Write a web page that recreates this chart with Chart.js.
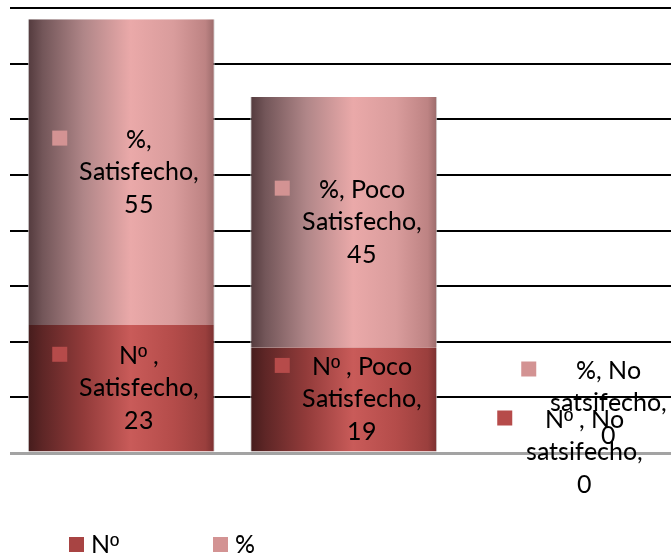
<!DOCTYPE html>
<html>
<head>
<meta charset="utf-8">
<script src="https://cdn.jsdelivr.net/npm/chart.js@4.4.1/dist/chart.umd.min.js"></script>
<style>
  /* Label face: Lato, with the ordinal sign taken from a face that underlines it */
  @font-face { font-family: 'LabelFace'; src: local('Lato Regular'), local('Lato-Regular'), local('Lato'); }
  @font-face { font-family: 'LabelFace'; src: local('Liberation Sans'), local('LiberationSans'); unicode-range: U+00BA; }
  html, body { margin: 0; padding: 0; background: #fff; overflow: hidden; width: 671px; height: 558px; }
  canvas { display: block; }
</style>
</head>
<body>
<canvas id="chart" width="680" height="558"></canvas>
<script>
// Categories and series
const categories = ['Satisfecho', 'Poco Satisfecho', 'No satsifecho'];
const seriesNames = ['Nº ', '%'];
const countValues = [23, 19, 0];
const percentValues = [55, 45, 0];
// Value axis (labels hidden, gridlines every step)
const axisMax = 80;
const axisStep = 10;

const FONT = 'LabelFace, Lato, "Open Sans", sans-serif';
const LABEL_SIZE = 25;
const LINE_GAP = 32.5;

const redStops = [
  [0, '#451c1c'], [0.08, '#5e2626'], [0.3, '#923b3a'], [0.55, '#c95b59'],
  [0.78, '#b44c4a'], [0.95, '#9a3f3d'], [1, '#7a3030']
];
const pinkStops = [
  [0, '#533a3d'], [0.08, '#735659'], [0.3, '#b08688'], [0.55, '#eaa9a9'],
  [0.78, '#d99c9c'], [0.95, '#bd8383'], [1, '#9a6a6a']
];
const markerColors = ['#b64b4a', '#d39393'];

function barGradient(stops) {
  return function (ctx) {
    const chart = ctx.chart;
    const xs = chart.scales && chart.scales.x;
    if (!chart.chartArea || !xs || ctx.type !== 'data') return stops[3][1];
    const cx = xs.getPixelForValue(ctx.dataIndex);
    const half = (xs.width / categories.length) * 0.84 / 2;
    const g = chart.ctx.createLinearGradient(cx - half, 0, cx + half, 0);
    stops.forEach(([o, c]) => g.addColorStop(o, c));
    return g;
  };
}

function sideBorder(ctx) {
  return ctx.raw ? { left: 1, right: 1, top: 0, bottom: 0 } : 0;
}

// "series, category, value" split over three lines
function labelLines(series, category, value) {
  const words = category.split(' ');
  const last = words.pop();
  return [series + ',' + (words.length ? ' ' + words.join(' ') : ''), last + ',', String(value)];
}

// Data labels: marker square plus wrapped text
const dataLabels = {
  id: 'dataLabels',
  afterDatasetsDraw(chart) {
    const c = chart.ctx;
    c.save();
    c.font = LABEL_SIZE + 'px ' + FONT;
    c.textAlign = 'center';
    c.textBaseline = 'middle';
    chart.data.datasets.forEach((ds, di) => {
      const meta = chart.getDatasetMeta(di);
      meta.data.forEach((el, i) => {
        const value = ds.data[i];
        let cx = el.x + 18;
        let cy = (el.y + el.base) / 2;
        if (value === 0) {
          if (di === 0) { cy -= 1; }
          else { cx = el.x + 42; cy -= 50; }
        }
        const lines = labelLines(ds.label, categories[i], value);
        c.fillStyle = markerColors[di];
        const firstY = cy - LINE_GAP;
        c.fillRect(cx - 87, firstY - 9, 15, 15);
        c.fillStyle = '#000';
        lines.forEach((t, k) => c.fillText(t, cx, cy + (k - 1) * LINE_GAP));
      });
    });
    c.restore();
  }
};

// Bottom legend
const bottomLegend = {
  id: 'bottomLegend',
  afterDraw(chart) {
    const c = chart.ctx;
    const items = [{ x: 69 }, { x: 213 }];
    c.save();
    c.font = LABEL_SIZE + 'px ' + FONT;
    c.textBaseline = 'middle';
    c.textAlign = 'left';
    chart.data.datasets.forEach((ds, di) => {
      const it = items[di];
      c.fillStyle = di === 0 ? '#a84443' : '#d39393';
      c.fillRect(it.x, 537, 15, 15);
      c.fillStyle = '#000';
      c.fillText(ds.label.trim(), it.x + 22, 545);
    });
    c.restore();
  }
};

function draw() {
  new Chart(document.getElementById('chart'), {
    type: 'bar',
    data: {
      labels: categories,
      datasets: [
        {
          label: seriesNames[0],
          data: countValues,
          backgroundColor: barGradient(redStops),
          borderColor: 'rgba(205,205,205,0.9)',
          borderWidth: sideBorder,
          borderSkipped: false
        },
        {
          label: seriesNames[1],
          data: percentValues,
          backgroundColor: barGradient(pinkStops),
          borderColor: 'rgba(205,205,205,0.9)',
          borderWidth: sideBorder,
          borderSkipped: false
        }
      ]
    },
    options: {
      responsive: false,
      animation: false,
      devicePixelRatio: 1,
      layout: { padding: { left: 10, right: 2.5, top: 8, bottom: 105 } },
      datasets: { bar: { barPercentage: 0.84, categoryPercentage: 1 } },
      plugins: { legend: { display: false }, tooltip: { enabled: false } },
      scales: {
        x: { stacked: true, display: false },
        y: {
          stacked: true,
          min: 0,
          max: axisMax,
          ticks: { display: false, stepSize: axisStep },
          border: { display: false },
          grid: {
            drawTicks: false,
            color: (ctx) => ctx.tick && ctx.tick.value === 0 ? '#a3a3a3' : '#000',
            lineWidth: (ctx) => ctx.tick && ctx.tick.value === 0 ? 3 : 2
          }
        }
      }
    },
    plugins: [dataLabels, bottomLegend]
  });
}

const fontReady = document.fonts && document.fonts.load
  ? Promise.all([
      document.fonts.load(LABEL_SIZE + 'px LabelFace', 'Satisfecho'),
      document.fonts.load(LABEL_SIZE + 'px LabelFace', 'º')
    ]).catch(() => null)
  : Promise.resolve();
fontReady.then(draw, draw);
</script>
</body>
</html>
